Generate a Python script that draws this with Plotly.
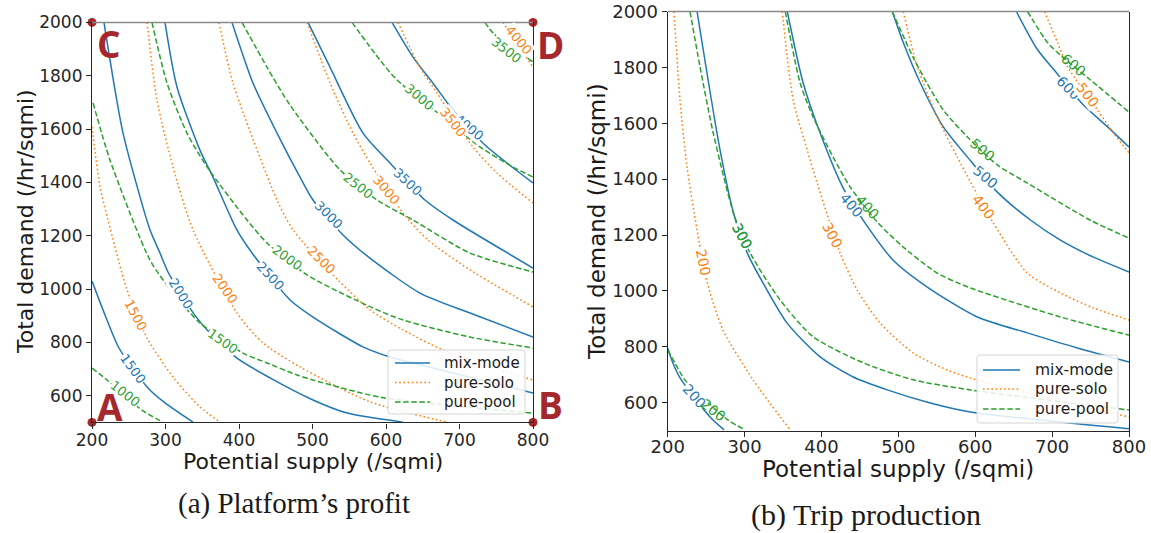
import plotly.graph_objects as go

# ---------------- data ----------------
supply_range = [200, 800]     # potential supply (/sqmi)
demand_range = [500, 2000]    # total demand (/hr/sqmi)
supply_ticks = [200, 300, 400, 500, 600, 700, 800]
demand_ticks = [600, 800, 1000, 1200, 1400, 1600, 1800, 2000]

# (a) Platform's profit -- iso-profit curves, one list per level
profit_mix_levels = [1500, 2000, 2500, 3000, 3500, 4000]
profit_mix_supply = [
    [200, 217.7, 236.7, 276.2, 299.3, 337.4],
    [216.3, 224.5, 242.2, 278.9, 292.5, 303.4, 338.8, 359.2, 397.3, 442.2, 500.7, 547, 623],
    [299.3, 315.6, 346.9, 364.6, 397.3, 421.8, 469.5, 500.7, 568.7, 605.4, 636.7, 800],
    [390.5, 419, 451.7, 483, 500.7, 541.5, 578.2, 646.2, 714.3, 800],
    [493.9, 523.8, 568.7, 605.4, 653, 691.1, 800],
    [608.2, 636.7, 663.9, 691.1, 734.7, 800],
]
profit_mix_demand = [
    [1030, 903, 779, 629, 573, 501],
    [2000, 1859, 1585, 1222, 1135, 1064, 906, 839, 741, 667, 584, 535, 501],
    [2000, 1758, 1521, 1420, 1221, 1120, 959, 895, 783, 745, 723, 610],
    [2000, 1773, 1585, 1420, 1334, 1203, 1116, 985, 910, 820],
    [2000, 1832, 1585, 1473, 1334, 1259, 1079],
    [2000, 1870, 1772, 1671, 1540, 1398],
]

profit_solo_levels = [1500, 2000, 2500, 3000, 3500, 4000]
profit_solo_supply = [
    [200, 210.9, 221.8, 247.6, 274.8, 310.2, 346.9, 374.1],
    [274.8, 288.4, 310.2, 337.4, 397.3, 432.7, 483, 578.2, 683],
    [372.8, 391.8, 451.7, 473.5, 534.7, 578.2, 623.1, 677.5, 800],
    [492.5, 523.8, 555.1, 578.2, 623.1, 657.1, 714.3, 800],
    [616.3, 646.2, 669.4, 718.3, 751, 800],
    [759.2, 800],
]
profit_solo_demand = [
    [1608, 1383, 1259, 997, 817, 670, 558, 501],
    [2000, 1709, 1458, 1222, 910, 798, 708, 577, 501],
    [2000, 1773, 1334, 1222, 1034, 922, 847, 772, 659],
    [2000, 1773, 1585, 1473, 1285, 1184, 1072, 933],
    [2000, 1832, 1735, 1533, 1435, 1323],
    [2000, 1832],
]

profit_pool_levels = [1000, 1500, 2000, 2500, 3000, 3500]
profit_pool_supply = [
    [200, 220.4, 268, 296.6],
    [201.4, 224.5, 278.9, 310.2, 346.9, 405.4, 438.1, 478.9, 500.7, 591.8, 800],
    [281.6, 302, 329.2, 356.5, 410.9, 438.1, 492.5, 578.2, 623.1, 714.3, 800],
    [404.1, 438.1, 469.4, 537.4, 587.8, 636.7, 714.3, 800],
    [553.7, 591.8, 615, 677.5, 727.9, 772.8, 800],
    [734.7, 745.6, 800],
]
profit_pool_demand = [
    [704, 659, 546, 501],
    [1698, 1484, 1109, 985, 873, 760, 723, 678, 659, 595, 535],
    [2000, 1773, 1585, 1458, 1259, 1173, 1053, 934, 884, 820, 779],
    [2000, 1832, 1690, 1447, 1334, 1259, 1135, 1064],
    [2000, 1859, 1784, 1645, 1533, 1458, 1420],
    [2000, 1960, 1852],
]

# (b) Trip production -- iso-trip curves
trips_mix_levels = [200, 300, 400, 500, 600]
trips_mix_supply = [
    [200, 206.8, 216, 255.1, 273.3],
    [238.2, 268.1, 286.3, 304.6, 324.1, 355.3, 398.3, 441.3, 485.5, 541.5, 593.6, 800],
    [355.5, 376.2, 398.3, 428.3, 456.8, 493.3, 537.6, 602.7, 667.8, 732.9, 800],
    [492.1, 506.4, 528.6, 558.5, 596.3, 630.1, 671.8, 710.8, 753.8, 800],
    [653.5, 680.9, 704.3, 739.5, 772.1, 800],
]
trips_mix_demand = [
    [796, 742, 689, 549, 503],
    [2000, 1504, 1272, 1129, 1028, 885, 764, 692, 646, 599, 567, 507],
    [2000, 1744, 1565, 1368, 1243, 1110, 1014, 907, 850, 796, 746],
    [2000, 1889, 1744, 1587, 1458, 1350, 1254, 1182, 1121, 1068],
    [2000, 1864, 1785, 1669, 1587, 1515],
]

trips_solo_levels = [200, 300, 400, 500]
trips_solo_supply = [
    [208.2, 216, 225.1, 238.2, 251.2, 272, 311, 359.2],
    [349, 363.2, 381.5, 394.5, 424.4, 446.5, 476.4, 519.4, 563.7, 602.7, 800],
    [506.4, 524.6, 550.6, 576.7, 623.6, 667.8, 710.8, 753.8, 800],
    [690.1, 707, 720, 759.1, 779.9, 800],
]
trips_solo_demand = [
    [2000, 1683, 1444, 1218, 1032, 860, 682, 503],
    [2000, 1683, 1504, 1386, 1135, 1003, 885, 778, 717, 681, 549],
    [2000, 1803, 1622, 1479, 1243, 1064, 993, 939, 896],
    [2000, 1889, 1803, 1647, 1565, 1494],
]

trips_pool_levels = [200, 300, 400, 500, 600]
trips_pool_supply = [
    [200, 209.5, 222.5, 278.5, 300.7],
    [229, 242, 259, 286.3, 307.2, 346.2, 389.2, 454.3, 519.4, 593.6, 800],
    [352.9, 372.3, 389.2, 415.2, 437.4, 472.5, 506.4, 550.6, 593.6, 710.8, 800],
    [492.1, 519.4, 537.6, 558.5, 589.8, 628.8, 667.8, 749.9, 800],
    [668, 694, 710.8, 749.9, 800],
]
trips_pool_demand = [
    [788, 742, 681, 538, 503],
    [2000, 1803, 1568, 1272, 1136, 968, 836, 743, 682, 646, 574],
    [2000, 1744, 1622, 1479, 1372, 1247, 1157, 1064, 1011, 907, 842],
    [2000, 1835, 1742, 1647, 1551, 1451, 1386, 1253, 1189],
    [2000, 1889, 1844, 1755, 1640],
]

series_names = ["mix-mode", "pure-solo", "pure-pool"]
corner_letters = ["A", "B", "C", "D"]

# ---------------- styling / placement ----------------
W, H = 1151, 533
BLUE, ORANGE, GREEN = "#1f77b4", "#ff7f0e", "#2ca02c"
DARKRED = "#a5282e"
INK = "#262626"
SANS = "DejaVu Sans"
SERIF = "Liberation Serif"
DOT = "1.6px,2.6px"
DASH = "5.5px,2.6px"


def px(x):
    return x / W


def py(y):
    return 1 - y / H


# inline contour-label spots (supply, demand, rotation)
profit_mix_spots = [(255.8, 704, 54), (321.1, 985, 58), (443.5, 1049, 47),
                    (521.1, 1278, 45), (628.6, 1402, 43), (712.9, 1604, 40)]
profit_solo_spots = [(258.5, 903, 62), (381, 1004, 55), (512.9, 1109, 45),
                     (601.3, 1371, 50), (691.1, 1623, 52), (779.6, 1934, 50)]
profit_pool_spots = [(244.9, 610, 38), (378.2, 802, 35), (465.3, 1120, 36),
                     (561.9, 1390, 38), (646.2, 1720, 40), (764.6, 1896, 38)]
trips_mix_spots = [(234.5, 624, 48), (296.9, 1197, 62), (438.6, 1307, 50),
                   (613.4, 1407, 40), (721.4, 1726, 45)]
trips_solo_spots = [(246, 1103, 78), (414.0, 1200, 62), (610.7, 1300, 52),
                    (746, 1700, 52)]
trips_pool_spots = [(259, 574, 38), (296.9, 1197, 62), (459.4, 1300, 47),
                    (609.6, 1504, 40), (727.9, 1808, 40)]

fig = go.Figure()


def add_curves(levels, xs, ys, color, dash, xa, ya):
    for lv, x, y in zip(levels, xs, ys):
        fig.add_trace(go.Scatter(
            x=x, y=y, mode="lines", xaxis=xa, yaxis=ya, showlegend=False,
            hoverinfo="skip", name=str(lv),
            line=dict(color=color, width=1.5, dash=dash, shape="spline", smoothing=0.7),
        ))


def add_labels(levels, spots, color, xa, ya, size, bg=True):
    for lv, (x, y, ang) in zip(levels, spots):
        fig.add_annotation(
            x=x, y=y, xref=xa, yref=ya, text=str(lv), textangle=ang, showarrow=False,
            xanchor="center", yanchor="middle",
            font=dict(family=SANS, size=size, color=color),
            bgcolor="white" if bg else "rgba(0,0,0,0)", borderpad=0,
        )


# panel (a)
add_curves(profit_mix_levels, profit_mix_supply, profit_mix_demand, BLUE, "solid", "x", "y")
add_curves(profit_solo_levels, profit_solo_supply, profit_solo_demand, ORANGE, DOT, "x", "y")
add_curves(profit_pool_levels, profit_pool_supply, profit_pool_demand, GREEN, DASH, "x", "y")
add_labels(profit_mix_levels, profit_mix_spots, BLUE, "x", "y", 13)
add_labels(profit_solo_levels, profit_solo_spots, ORANGE, "x", "y", 13)
add_labels(profit_pool_levels, profit_pool_spots, GREEN, "x", "y", 13)

# panel (b)
add_curves(trips_mix_levels, trips_mix_supply, trips_mix_demand, BLUE, "solid", "x2", "y2")
add_curves(trips_solo_levels, trips_solo_supply, trips_solo_demand, ORANGE, DOT, "x2", "y2")
add_curves(trips_pool_levels, trips_pool_supply, trips_pool_demand, GREEN, DASH, "x2", "y2")
add_labels(trips_mix_levels, trips_mix_spots, BLUE, "x2", "y2", 14)
add_labels(trips_solo_levels, trips_solo_spots, ORANGE, "x2", "y2", 14)
add_labels(trips_pool_levels, trips_pool_spots, GREEN, "x2", "y2", 14, bg=False)

# corner markers of panel (a)
corner_x = [supply_range[0], supply_range[1], supply_range[0], supply_range[1]]
corner_y = [demand_range[0], demand_range[0], demand_range[1], demand_range[1]]
fig.add_trace(go.Scatter(
    x=corner_x, y=corner_y, mode="markers", xaxis="x", yaxis="y", cliponaxis=False,
    showlegend=False, hoverinfo="skip",
    marker=dict(color=DARKRED, size=9, line=dict(width=0)),
))
letter_pos = [(110, 406), (550, 404), (109, 43), (550, 44)]
for letter, (lx, ly) in zip(corner_letters, letter_pos):
    fig.add_annotation(
        x=px(lx), y=py(ly), xref="paper", yref="paper", text=f"<b>{letter}</b>",
        xanchor="center", yanchor="middle", showarrow=False,
        font=dict(family="Open Sans", size=37, color=DARKRED),
    )

# axes frames
dom_a_x = [px(92), px(533)]
dom_a_y = [py(422.4), py(22.4)]
dom_b_x = [px(667.7), px(1129)]
dom_b_y = [py(430.7), py(11.5)]


def axis(domain, rng, ticks, size, anchor, standoff=0):
    return dict(
        domain=domain, range=rng, tickvals=ticks, ticktext=[str(t) for t in ticks],
        showgrid=False, zeroline=False, showline=True, linecolor=INK, linewidth=1.2,
        ticks="outside", ticklen=5, tickwidth=1, tickcolor=INK,
        ticklabelstandoff=standoff,
        tickfont=dict(family=SANS, size=size, color=INK), anchor=anchor, automargin=False,
    )


fig.update_layout(
    width=W, height=H, margin=dict(l=0, r=0, t=0, b=0),
    paper_bgcolor="white", plot_bgcolor="white", showlegend=False,
    xaxis=axis(dom_a_x, supply_range, supply_ticks, 17, "y", -3),
    yaxis=dict(axis(dom_a_y, demand_range, demand_ticks, 17, "x"), mirror=True),
    xaxis2=axis(dom_b_x, supply_range, supply_ticks, 18, "y2", -5),
    yaxis2=dict(axis(dom_b_y, demand_range, demand_ticks, 18, "x2"), mirror=True),
)

# lighter top spines
for xr, yr in (("x domain", "y domain"), ("x2 domain", "y2 domain")):
    fig.add_shape(type="line", xref=xr, yref=yr, x0=0, x1=1, y0=1, y1=1,
                  line=dict(color="#8a8a8a", width=1.5))

# axis titles and captions
titles = [
    ("Potential supply (/sqmi)", 312.5, 461, 0, 22, SANS),
    ("Total demand (/hr/sqmi)", 25, 222, -90, 22, SANS),
    ("Potential supply (/sqmi)", 898, 469, 0, 23, SANS),
    ("Total demand (/hr/sqmi)", 597, 222, -90, 23, SANS),
    ("(a) Platform’s profit", 294, 503, 0, 29, SERIF),
    ("(b) Trip production", 866, 515, 0, 30, SERIF),
]
for text, tx, ty, ang, size, fam in titles:
    fig.add_annotation(x=px(tx), y=py(ty), xref="paper", yref="paper", text=text,
                       textangle=ang, showarrow=False, xanchor="center", yanchor="middle",
                       font=dict(family=fam, size=size, color="#1a1a1a"))

# legends drawn as boxed keys
legend_specs = [
    (388, 350, 525, 414, [363, 382.5, 402], 395, 430, 442, 15),
    (977, 355, 1118, 423, [370, 389, 409], 983, 1020, 1033, 15.5),
]
styles = [(BLUE, "solid"), (ORANGE, DOT), (GREEN, DASH)]
for x0, y0, x1, y1, rows, s0, s1, tx, fs in legend_specs:
    r = 3
    path = (f"M {px(x0 + r)},{py(y0)} L {px(x1 - r)},{py(y0)} "
            f"Q {px(x1)},{py(y0)} {px(x1)},{py(y0 + r)} L {px(x1)},{py(y1 - r)} "
            f"Q {px(x1)},{py(y1)} {px(x1 - r)},{py(y1)} L {px(x0 + r)},{py(y1)} "
            f"Q {px(x0)},{py(y1)} {px(x0)},{py(y1 - r)} L {px(x0)},{py(y0 + r)} "
            f"Q {px(x0)},{py(y0)} {px(x0 + r)},{py(y0)} Z")
    fig.add_shape(type="path", path=path, xref="paper", yref="paper",
                  fillcolor="rgba(255,255,255,0.85)", line=dict(color="#d5d5d5", width=1))
    for name, (col, dsh), ry in zip(series_names, styles, rows):
        fig.add_shape(type="line", xref="paper", yref="paper",
                      x0=px(s0), x1=px(s1), y0=py(ry), y1=py(ry),
                      line=dict(color=col, width=1.5, dash=dsh))
        fig.add_annotation(x=px(tx), y=py(ry), xref="paper", yref="paper", text=name,
                           xanchor="left", yanchor="middle", showarrow=False,
                           font=dict(family=SANS, size=fs, color="#1a1a1a"))

fig.write_html("out.html")
